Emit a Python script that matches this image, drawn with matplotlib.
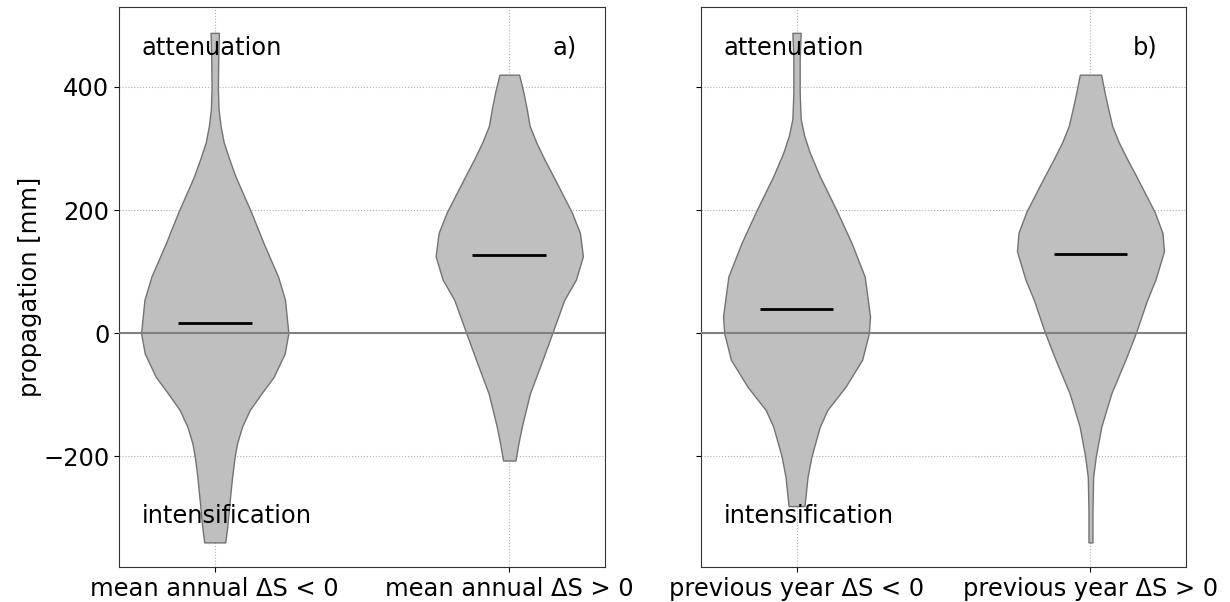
import numpy as np
import matplotlib
matplotlib.use("Agg")
import matplotlib.pyplot as plt

# ---- data ----
categories_a = ["mean annual ΔS < 0", "mean annual ΔS > 0"]
categories_b = ["previous year ΔS < 0", "previous year ΔS > 0"]

# density profiles: y values [mm] and half-width (relative units)
a1_y = [-340, -315, -272, -234, -200, -179, -152, -125, -98, -71, -33, 0, 54, 92, 147, 197,
        255, 283, 310, 337, 364, 398, 446, 488]
a1_w = [31.5, 37.5, 45, 52, 60, 67, 82, 105, 140, 177, 210, 221, 211, 190, 146, 109,
        62, 43.5, 27, 17.5, 11.5, 9.5, 10.5, 12.5]
a1_median = 17

a2_y = [-207, -179, -152, -98, -43, 0, 54, 87, 125, 163, 197, 255, 283, 310, 337, 364, 391, 420]
a2_w = [18.5, 27.5, 37.5, 62, 100, 129, 165, 200, 221, 212, 187, 132, 105, 81, 61, 52.5, 42.5, 29.5]
a2_median = 127

b1_y = [-281, -234, -200, -152, -125, -87, -43, 0, 27, 92, 147, 197, 255, 293, 321, 348,
        391, 446, 488]
b1_w = [24, 33, 45, 70, 92.5, 147.5, 197.5, 217.5, 221, 205, 165, 122.5, 70, 40, 23, 12.5,
        9.5, 9.5, 12.5]
b1_median = 40

b2_y = [-340, -288, -234, -200, -152, -98, -43, 0, 54, 87, 133, 163, 197, 255, 283, 310,
        337, 364, 391, 420]
b2_w = [6, 6, 8, 16, 32.5, 62.5, 105, 136, 170, 195, 220.5, 216, 192.5, 137.5, 110, 85,
        65, 53.5, 42.5, 32]
b2_median = 129

yticks = [-200, 0, 200, 400]


def stats(y, w, med):
    y = np.asarray(y, float)
    w = np.asarray(w, float)
    return dict(coords=y, vals=w / w.max(), mean=med, median=med,
                min=y.min(), max=y.max())


fig = plt.figure(figsize=(12.3, 6.02), dpi=100)
ax1 = fig.add_axes([119 / 1230, 35 / 602, 486 / 1230, 560 / 602])
ax2 = fig.add_axes([701 / 1230, 35 / 602, 485 / 1230, 560 / 602], sharey=ax1)

panels = [
    (ax1, [stats(a1_y, a1_w, a1_median), stats(a2_y, a2_w, a2_median)], categories_a, "a)"),
    (ax2, [stats(b1_y, b1_w, b1_median), stats(b2_y, b2_w, b2_median)], categories_b, "b)"),
]

fs = 17.4
for ax, vps, cats, tag in panels:
    parts = ax.violin(vps, positions=[1, 2], widths=0.5, showmeans=False,
                      showextrema=False, showmedians=True)
    for pc in parts["bodies"]:
        pc.set_facecolor("#bfbfbf")
        pc.set_edgecolor("#737373")
        pc.set_alpha(1)
        pc.set_linewidth(1.0)
        pc.set_joinstyle("round")
        pc.set_zorder(2)
    parts["cmedians"].set_color("black")
    parts["cmedians"].set_linewidth(2)
    parts["cmedians"].set_zorder(3)
    ax.axhline(0, color="#808080", lw=1.5, zorder=4)
    ax.set_xlim(0.675, 2.325)
    ax.set_xticks([1, 2])
    ax.set_xticklabels(cats, fontsize=fs)
    ax.grid(True, linestyle=":", color="#b0b0b0", lw=0.8, zorder=0)
    ax.set_axisbelow(True)
    ax.text(0.047, 0.915, "attenuation", transform=ax.transAxes, fontsize=fs,
            ha="left", va="baseline")
    ax.text(0.047, 0.078, "intensification", transform=ax.transAxes, fontsize=fs,
            ha="left", va="baseline")
    ax.text(0.941, 0.915, tag, transform=ax.transAxes, fontsize=fs,
            ha="right", va="baseline")
    for s in ax.spines.values():
        s.set_color("#333333")

ax1.set_ylim(-380, 530)
ax1.set_yticks(yticks)
ax1.tick_params(axis="y", labelsize=fs)
ax1.set_ylabel("propagation [mm]", fontsize=fs, labelpad=1)
ax2.tick_params(axis="y", labelleft=False)

fig.savefig("out.png", dpi=100)
